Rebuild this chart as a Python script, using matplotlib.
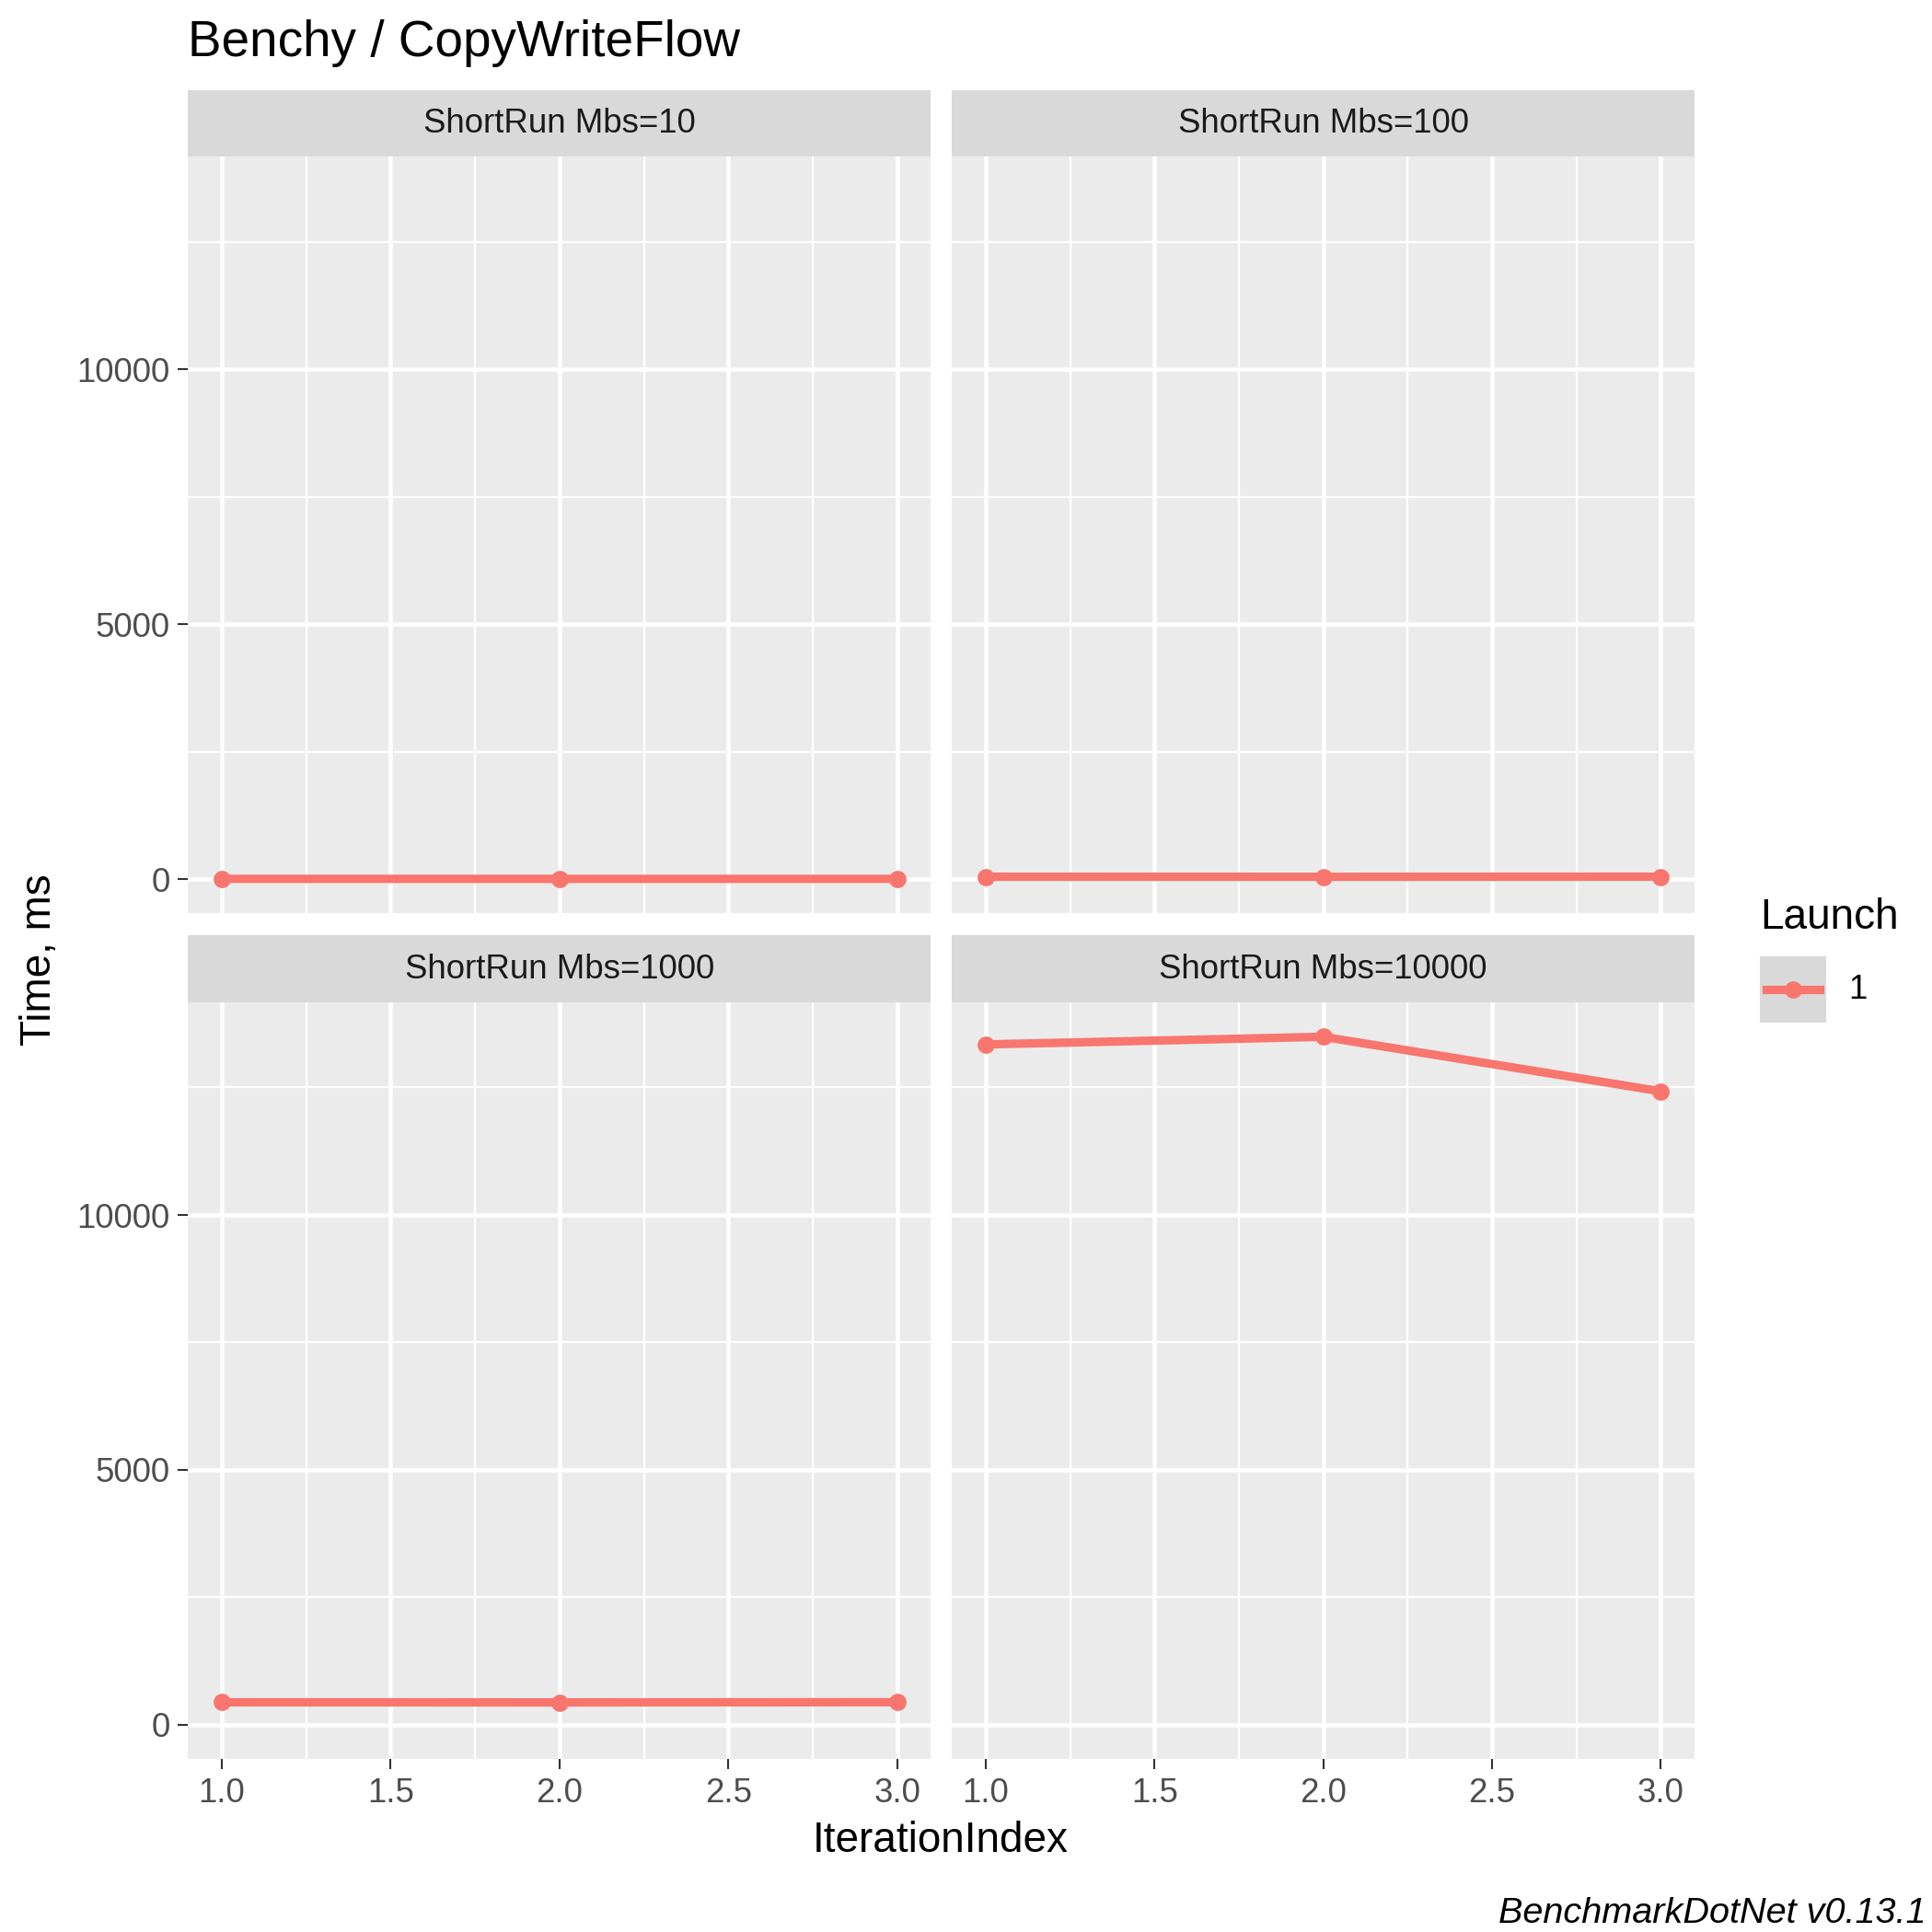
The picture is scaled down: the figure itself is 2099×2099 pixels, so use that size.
import matplotlib
matplotlib.use("Agg")
import matplotlib.pyplot as plt
from matplotlib.ticker import MultipleLocator
from matplotlib.lines import Line2D

plt.rcParams['font.family'] = ['Liberation Sans', 'DejaVu Sans']

# data
iteration = [1, 2, 3]
panels = ["ShortRun Mbs=10", "ShortRun Mbs=100", "ShortRun Mbs=1000", "ShortRun Mbs=10000"]
times = [
    [4.5, 4.4, 4.3],
    [45, 44, 46],
    [436, 434, 438],
    [13340, 13490, 12420],
]
launch_label = "1"
line_color = "#F8766D"

W = 1561.0
fig = plt.figure(figsize=(7, 7), dpi=300)

def fx(px):
    return px / W

def fy(py):
    return 1 - py / W

# panel boxes (left, right, top, bottom) in reference pixels
boxes = [
    (152, 752, 127, 738),
    (769, 1369, 127, 738),
    (152, 752, 810, 1421),
    (769, 1369, 810, 1421),
]
strip_h = 54

for i, (l, r, t, b) in enumerate(boxes):
    ax = fig.add_axes([fx(l), fy(b), fx(r - l), (b - t) / W])
    ax.set_facecolor("#EBEBEB")
    for s in ax.spines.values():
        s.set_visible(False)
    ax.set_xlim(0.9, 3.1)
    ax.set_ylim(-670, 14165)
    ax.xaxis.set_major_locator(MultipleLocator(0.5))
    ax.xaxis.set_minor_locator(MultipleLocator(0.25))
    ax.yaxis.set_major_locator(MultipleLocator(5000))
    ax.yaxis.set_minor_locator(MultipleLocator(2500))
    ax.grid(which="major", color="white", linewidth=1.1)
    ax.grid(which="minor", color="white", linewidth=0.55)
    ax.set_axisbelow(True)
    ax.tick_params(which="minor", length=0)
    ax.tick_params(which="major", length=2.7, color="#333333", width=0.5,
                   labelsize=8.8, labelcolor="#4D4D4D", pad=2)
    ax.plot(iteration, times[i], color=line_color, linewidth=2.2,
            marker="o", markersize=3.5, solid_capstyle="butt")
    if i < 2:
        ax.set_xticklabels([])
        ax.tick_params(axis="x", length=0)
    else:
        ax.set_xticks([1.0, 1.5, 2.0, 2.5, 3.0])
        ax.set_xticklabels(["1.0", "1.5", "2.0", "2.5", "3.0"])
    if i % 2 == 1:
        ax.set_yticklabels([])
        ax.tick_params(axis="y", length=0)
    else:
        ax.set_yticks([0, 5000, 10000])
        ax.set_yticklabels(["0", "5000", "10000"])
    sax = fig.add_axes([fx(l), fy(t), fx(r - l), strip_h / W])
    sax.set_facecolor("#D9D9D9")
    sax.set_xticks([])
    sax.set_yticks([])
    for s in sax.spines.values():
        s.set_visible(False)
    sax.text(0.5, 0.5, panels[i], ha="center", va="center", fontsize=8.8,
             color="#1A1A1A", transform=sax.transAxes)

fig.text(fx(152), fy(35), "Benchy / CopyWriteFlow", fontsize=13.2, va="center", ha="left")
fig.text(fx(760), fy(1487), "IterationIndex", fontsize=11, ha="center", va="center")
fig.text(fx(32), fy(775), "Time, ms", fontsize=11, ha="center", va="center", rotation=90)
fig.text(fx(1556), fy(1546), "BenchmarkDotNet v0.13.1", fontsize=9.5, style="italic",
         ha="right", va="center")

# legend
fig.text(fx(1422), fy(741), "Launch", fontsize=11, ha="left", va="center")
kax = fig.add_axes([fx(1422), fy(826), fx(53), 53 / W])
kax.set_facecolor("#D9D9D9")
kax.set_xticks([])
kax.set_yticks([])
for s in kax.spines.values():
    s.set_visible(False)
kax.set_xlim(0, 1)
kax.set_ylim(0, 1)
kax.add_line(Line2D([0.1, 0.9], [0.5, 0.5], color=line_color, linewidth=2.2))
kax.plot([0.5], [0.5], marker="o", color=line_color, markersize=3.5)
fig.text(fx(1493), fy(800), launch_label, fontsize=8.8, ha="left", va="center")

fig.savefig("out.png", dpi=299.9)
